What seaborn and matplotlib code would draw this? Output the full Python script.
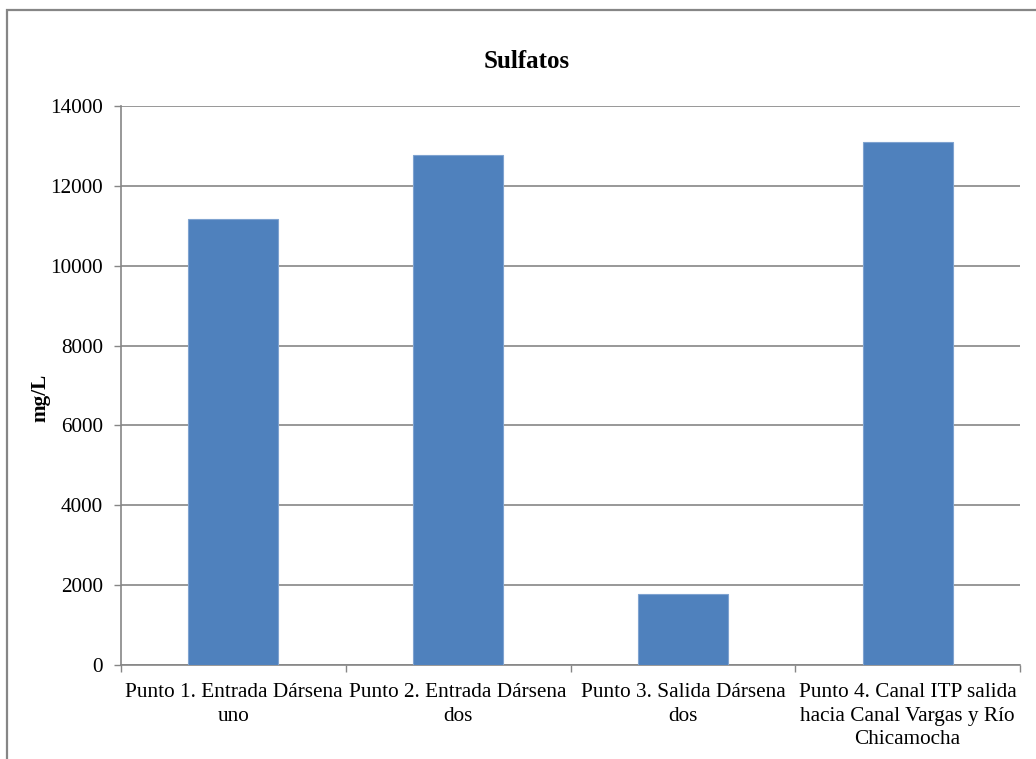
import textwrap
import matplotlib
matplotlib.use("Agg")
import matplotlib.pyplot as plt
from matplotlib.patches import Rectangle
import pandas as pd
import seaborn as sns

# Sampling points and measured sulphate concentration (mg/L)
puntos = [
    "Punto 1. Entrada Dársena uno",
    "Punto 2. Entrada Dársena dos",
    "Punto 3. Salida Dársena dos",
    "Punto 4. Canal ITP salida hacia Canal Vargas y Río Chicamocha",
]
sulfatos = [11180, 12780, 1770, 13090]
y_ticks = [0, 2000, 4000, 6000, 8000, 10000, 12000, 14000]

sns.set_theme(style="white")
plt.rcParams["font.family"] = ["Liberation Serif", "DejaVu Serif"]
plt.rcParams.update({"text.color": "black", "xtick.labelcolor": "black",
                     "ytick.labelcolor": "black"})

GRAY = "#868686"
BLUE = "#4F81BD"
FS = 15.3

df = pd.DataFrame({"punto": puntos, "mg/L": sulfatos})

fig = plt.figure(figsize=(10.36, 7.59), dpi=100)
ax = fig.add_axes([0.1168, 0.1238, 0.8678, 0.7365])

# Outer chart-area frame
fig.patches.append(Rectangle((7 / 1036, -0.05), 1.2, 1 - 9.5 / 759 + 0.05,
                             transform=fig.transFigure, fill=False,
                             edgecolor=GRAY, linewidth=1.6))

sns.barplot(data=df, x="punto", y="mg/L", color=BLUE, saturation=1,
            width=0.4, edgecolor="#7FA3D0", linewidth=0.8, ax=ax, zorder=3)

ax.set_ylim(0, 14000)
ax.set_xlim(-0.5, len(puntos) - 0.5)
ax.set_yticks(y_ticks)
ax.set_yticklabels([str(v) for v in y_ticks], fontsize=FS, color="black")
ax.yaxis.grid(True, color=GRAY, linewidth=1.2, zorder=0)
ax.xaxis.grid(False)

ax.set_xticks(range(len(puntos)))
ax.set_xticklabels([textwrap.fill(p, 25) for p in puntos], fontsize=FS,
                   linespacing=1.32, color="black")
ax.set_xticks([i - 0.5 for i in range(len(puntos) + 1)], minor=True)
ax.tick_params(axis="x", which="major", length=0, pad=13)
ax.tick_params(axis="x", which="minor", length=5, width=1, color=GRAY,
               direction="out", bottom=True)
ax.tick_params(axis="y", length=5, width=1, color=GRAY, direction="out",
               left=True, pad=8)

for side in ("top", "right"):
    ax.spines[side].set_visible(False)
for side in ("left", "bottom"):
    ax.spines[side].set_color(GRAY)
    ax.spines[side].set_linewidth(1.2)

ax.set_xlabel("")
ax.set_ylabel("")
fig.text(40 / 1036, 1 - 398 / 759, "mg/L", rotation=90, fontsize=FS,
         fontweight="bold", ha="center", va="center")
fig.text(527 / 1036, 1 - 62 / 759, "Sulfatos", fontsize=18,
         fontweight="bold", ha="center", va="center")

fig.savefig("out.png", dpi=100, facecolor="white")
